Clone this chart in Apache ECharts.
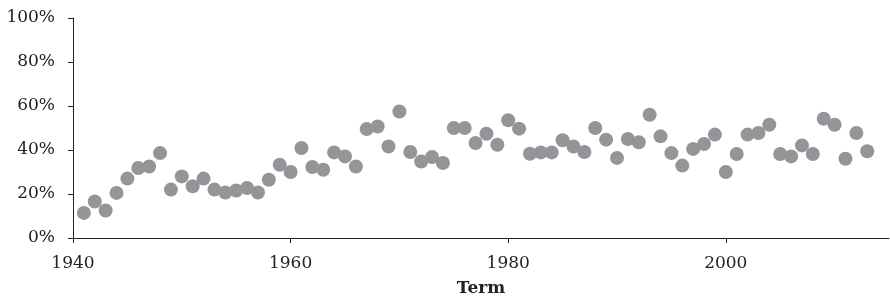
<!DOCTYPE html>
<html>
<head>
<meta charset="utf-8">
<script src="https://cdn.jsdelivr.net/npm/echarts@6/dist/echarts.min.js"></script>
<style>
  html, body { margin: 0; padding: 0; background: #fff; }
  #chart { width: 890px; height: 299px; }
</style>
</head>
<body>
<div id="chart"></div>
<script>
// one point per term, share in percent
const years = [
  1941, 1942, 1943, 1944, 1945, 1946, 1947, 1948, 1949, 1950,
  1951, 1952, 1953, 1954, 1955, 1956, 1957, 1958, 1959, 1960,
  1961, 1962, 1963, 1964, 1965, 1966, 1967, 1968, 1969, 1970,
  1971, 1972, 1973, 1974, 1975, 1976, 1977, 1978, 1979, 1980,
  1981, 1982, 1983, 1984, 1985, 1986, 1987, 1988, 1989, 1990,
  1991, 1992, 1993, 1994, 1995, 1996, 1997, 1998, 1999, 2000,
  2001, 2002, 2003, 2004, 2005, 2006, 2007, 2008, 2009, 2010,
  2011, 2012, 2013
];
const shares = [
  11.4, 16.6, 12.5, 20.5, 27.0, 31.8, 32.5, 38.6, 22.0, 28.0,
  23.5, 27.0, 22.0, 20.7, 21.6, 22.7, 20.7, 26.5, 33.3, 30.0,
  40.9, 32.3, 31.0, 38.9, 37.1, 32.5, 49.5, 50.7, 41.6, 57.5,
  39.1, 34.8, 36.8, 34.1, 50.0, 50.0, 43.2, 47.4, 42.4, 53.5,
  49.7, 38.3, 38.9, 38.9, 44.4, 41.6, 39.1, 50.0, 44.7, 36.4,
  45.0, 43.5, 56.0, 46.2, 38.6, 32.9, 40.5, 42.7, 47.0, 30.0,
  38.2, 47.0, 47.7, 51.5, 38.2, 37.1, 42.1, 38.2, 54.2, 51.5,
  36.0, 47.7, 39.4
];
const xTicks = [1940, 1960, 1980, 2000];
const yTicks = [0, 20, 40, 60, 80, 100];

const font = '"DejaVu Serif", "Liberation Serif", serif';

const points = years.map((y, i) => [y, shares[i]]);

const option = {
    animation: false,
    backgroundColor: '#fff',
    grid: {
        left: 73,
        right: 1,
        top: 18,
        bottom: 61,
        containLabel: false,
        outerBoundsMode: 'none'
    },
    xAxis: {
        type: 'value',
        min: 1940,
        max: 2015,
        name: 'Term',
        nameLocation: 'middle',
        nameGap: 42,
        nameTextStyle: {
            fontFamily: font,
            fontWeight: 'bold',
            fontSize: 17,
            color: '#222'
        },
        axisLine: { show: true, lineStyle: { color: '#222', width: 1 } },
        axisTick: {
            show: true,
            length: 5,
            customValues: xTicks,
            lineStyle: { color: '#222' }
        },
        axisLabel: {
            customValues: xTicks,
            formatter: v => String(v),
            margin: 17,
            fontFamily: font,
            fontSize: 17,
            color: '#222'
        },
        splitLine: { show: false }
    },
    yAxis: {
        type: 'value',
        min: 0,
        max: 100,
        interval: 20,
        axisLine: { show: true, lineStyle: { color: '#222', width: 1 } },
        axisTick: {
            show: true,
            length: 5,
            customValues: yTicks,
            lineStyle: { color: '#222' }
        },
        axisLabel: {
            customValues: yTicks,
            formatter: '{value}%',
            margin: 18,
            fontFamily: font,
            fontSize: 17,
            color: '#222'
        },
        splitLine: { show: false }
    },
    series: [{
        type: 'scatter',
        data: points,
        symbol: 'circle',
        symbolSize: 14,
        itemStyle: { color: '#939598', opacity: 1 }
    }]
};

echarts.init(document.getElementById('chart')).setOption(option);
</script>
</body>
</html>
